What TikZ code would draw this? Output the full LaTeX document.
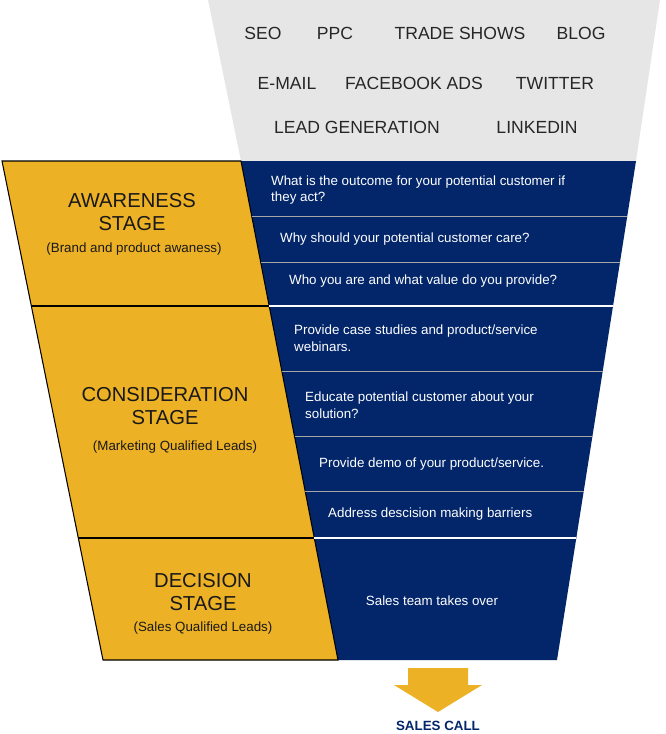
\documentclass[tikz,border=0pt]{standalone}
\usepackage{fontspec}
\setmainfont{Liberation Sans}
\definecolor{gold}{HTML}{EDB125}
\definecolor{navy}{HTML}{03266A}
\definecolor{fog}{HTML}{E6E6E6}
\tikzset{
  channel/.style={font=\fontsize{10}{12}\selectfont, text=black!85},
  stagetitle/.style={font=\fontsize{11.5}{13.5}\selectfont, align=center, text=black!90},
  stagesub/.style={font=\fontsize{7.6}{9}\selectfont, text=black!90},
  step text/.style={font=\fontsize{7.6}{9.6}\selectfont, text=white, anchor=west, align=left},
  rowline/.style={draw=gray!70, line width=0.5pt},
}
\begin{document}
\begin{tikzpicture}[x=0.02cm,y=-0.02cm]
        \useasboundingbox (0,0) rectangle (666,734);

        % channel funnel
        \fill[fog] (208,0) -- (660,0) -- (636,161) -- (241,161) -- cycle;
        \path
        (263,33) node[channel](seo) {SEO}
        (335,33) node[channel](ppc) {PPC}
        (460,33) node[channel](trade) {TRADE SHOWS}
        (581,33) node[channel](blog) {BLOG}
        (287,83) node[channel](mail) {E-MAIL}
        (414,83) node[channel](fb) {FACEBOOK ADS}
        (555,83) node[channel](tw) {TWITTER}
        (357,127) node[channel](lead) {LEAD GENERATION}
        (537,127) node[channel](li) {LINKEDIN}
        ;

        % stages
        \fill[navy] (241,161) -- (636,161) -- (557,660) -- (338,660) -- cycle;
        \filldraw[fill=gold, draw=black, line width=0.6pt]
        (2,161) -- (241,161) -- (338,660) -- (103,660) -- cycle;
        \draw[line width=0.6pt] (31.4,306) -- (269.2,306);
        \draw[line width=0.6pt] (78.3,538) -- (314.3,538);

        \draw[rowline] (251.7,216) -- (627.3,216);
        \draw[rowline] (260.6,262) -- (620,262);
        \draw[white, line width=0.8pt] (269.2,306) -- (613,306);
        \draw[rowline] (281.8,371) -- (602.8,371);
        \draw[rowline] (294.5,436) -- (592.5,436);
        \draw[rowline] (305.1,491) -- (583.8,491);
        \draw[white, line width=0.8pt] (314.3,538) -- (576.3,538);

        \node[stagetitle](aw) at (132,212) {AWARENESS\\STAGE};
        \node[stagesub](awsub) at (134,249) {(Brand and product awaness)};
        \node[stagetitle](co) at (165,406) {CONSIDERATION\\STAGE};
        \node[stagesub](cosub) at (175,447) {(Marketing Qualified Leads)};
        \node[stagetitle](de) at (203,592) {DECISION\\STAGE};
        \node[stagesub](desub) at (203,628) {(Sales Qualified Leads)};

        \node[step text](q1) at (265,190) {What is the outcome for your potential customer if\\they act?};
        \node[step text](q2) at (274,239) {Why should your potential customer care?};
        \node[step text](q3) at (283,281) {Who you are and what value do you provide?};
        \node[step text](q4) at (288,338) {Provide case studies and product/service\\webinars.};
        \node[step text](q5) at (299,405) {Educate potential customer about your\\solution?};
        \node[step text](q6) at (313,464) {Provide demo of your product/service.};
        \node[step text](q7) at (322,514) {Address descision making barriers};
        \node[step text, anchor=center](q8) at (432,601) {Sales team takes over};

        % hand-off
        \fill[gold] (408,668) -- (468,668) -- (468,685) -- (482,685) -- (438,712)
          -- (394,685) -- (408,685) -- cycle;
        \node[font=\bfseries\fontsize{7.6}{9}\selectfont, text=navy](call) at (438,726) {SALES CALL};
      \end{tikzpicture}
\end{document}
